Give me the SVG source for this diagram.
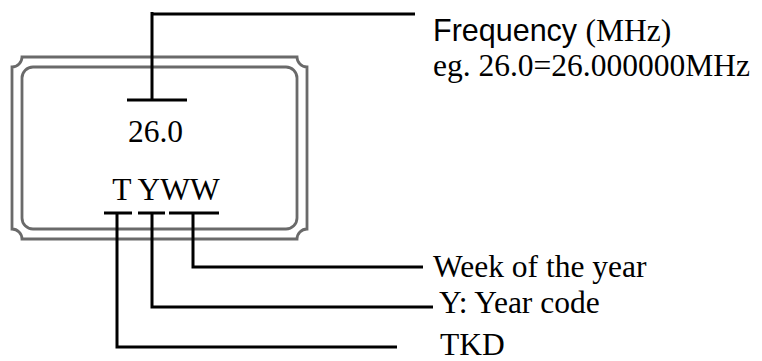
<svg xmlns="http://www.w3.org/2000/svg" width="762" height="361" viewBox="0 0 762 361">
<style>
.chip{fill:none;stroke:#6a6a6a;stroke-width:2.8}
.ln{fill:none;stroke:#000;stroke-width:3}
.serif{font-family:"Liberation Serif","Times New Roman",serif;font-size:31.5px;fill:#000}
.sans{font-family:"Liberation Sans",Arial,sans-serif;font-size:30.5px;fill:#000}
</style>
<rect width="762" height="361" fill="#fff"/>
<g id="chip">
<path class="chip" d="M22,57 H297 A10,10 0 0 0 307,67 V229 A10,10 0 0 0 297,239 H22 A10,10 0 0 0 12,229 V67 A10,10 0 0 0 22,57 Z"/>
<rect class="chip" x="22" y="67" width="275" height="162" rx="11" ry="11"/>
<text class="serif" x="155.5" y="142" text-anchor="middle">26.0</text>
<text class="serif" x="166" y="200" text-anchor="middle">T YWW</text>
</g>
<g id="connectors">
<path class="ln" d="M127,100 H187 M152,100 V12 M152,14 H415"/>
<path class="ln" d="M104,213 H132 M117,213 V347 H397"/>
<path class="ln" d="M138,213 H165 M152,213 V307 H433"/>
<path class="ln" d="M169,213 H219 M193,213 V267 H423"/>
</g>
<g id="label-frequency">
<text x="433" y="41"><tspan class="sans">Frequency </tspan><tspan class="serif">(MHz)</tspan></text>
<text class="serif" x="433" y="76">eg. 26.0=26.000000MHz</text>
</g>
<g id="label-week"><text class="serif" x="433" y="277">Week of the year</text></g>
<g id="label-year"><text class="serif" x="439" y="313">Y: Year code</text></g>
<g id="label-tkd"><text class="serif" x="440" y="355">TKD</text></g>
</svg>
